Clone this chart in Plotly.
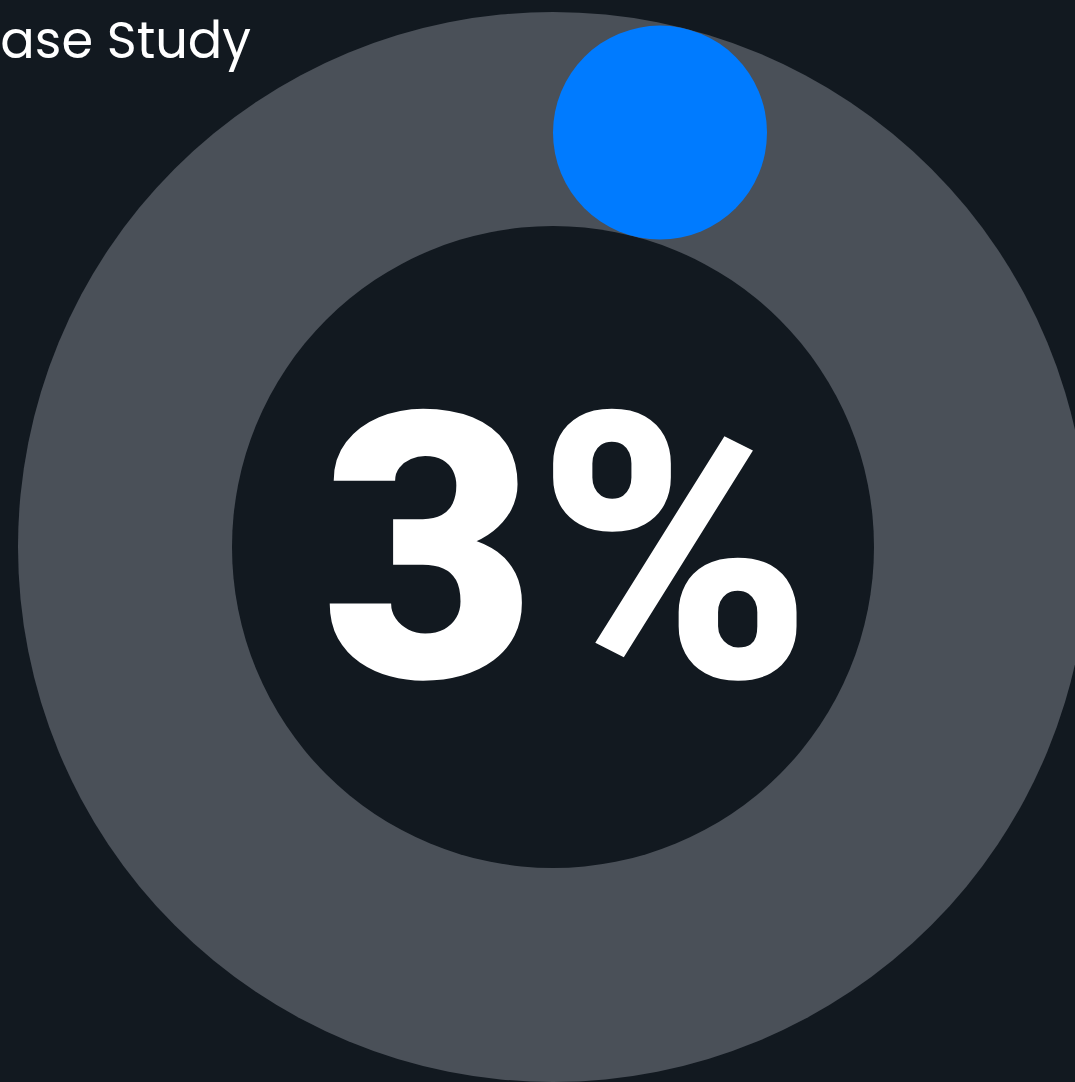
import math
import plotly.graph_objects as go

# ---- data ----
title_text = "Case Study"
progress_value = [3]          # percent
progress_max = [100]
value_label = ["3%"]

# ---- style / geometry ----
W, H = 1075, 1082
BG = "#121920"
RING = "#4a5058"
BLUE = "#007bff"
cx, cy = 553, 547
r_out, r_in = 535, 321
r_mid = (r_out + r_in) / 2
cap = (r_out - r_in) / 2

# progress indicator: rounded arc cap starting at 12 o'clock
frac = progress_value[0] / progress_max[0]
theta = math.asin(cap / r_mid)  # arc start cap position
bx = cx + r_mid * math.sin(theta)
by = cy - r_mid * math.cos(theta)

fig = go.Figure()
fig.add_trace(go.Scatter(
    x=[bx], y=[by], mode="markers",
    marker=dict(size=2 * cap, color=BLUE, line=dict(width=0)),
    hoverinfo="skip", showlegend=False,
))

fig.update_layout(
    width=W, height=H,
    margin=dict(l=0, r=0, t=0, b=0),
    paper_bgcolor=BG, plot_bgcolor=BG,
    xaxis=dict(range=[0, W], visible=False, fixedrange=True),
    yaxis=dict(range=[H, 0], visible=False, fixedrange=True),
    shapes=[
        dict(type="circle", xref="x", yref="y", layer="below",
             x0=cx - r_out, x1=cx + r_out, y0=cy - r_out, y1=cy + r_out,
             fillcolor=RING, line=dict(width=0)),
        dict(type="circle", xref="x", yref="y", layer="below",
             x0=cx - r_in, x1=cx + r_in, y0=cy - r_in, y1=cy + r_in,
             fillcolor=BG, line=dict(width=0)),
    ],
    annotations=[
        dict(text=value_label[0], x=567, y=550, xref="x", yref="y",
             showarrow=False, xanchor="center", yanchor="middle",
             font=dict(family="Roboto", size=372, color="white", weight=900)),
        dict(text=title_text, x=0, y=40, xref="paper", yref="y",
             xshift=-41, showarrow=False, xanchor="left", yanchor="middle",
             font=dict(family="Poppins, Open Sans", size=51, color="white")),
    ],
)

fig.write_html("out.html")
